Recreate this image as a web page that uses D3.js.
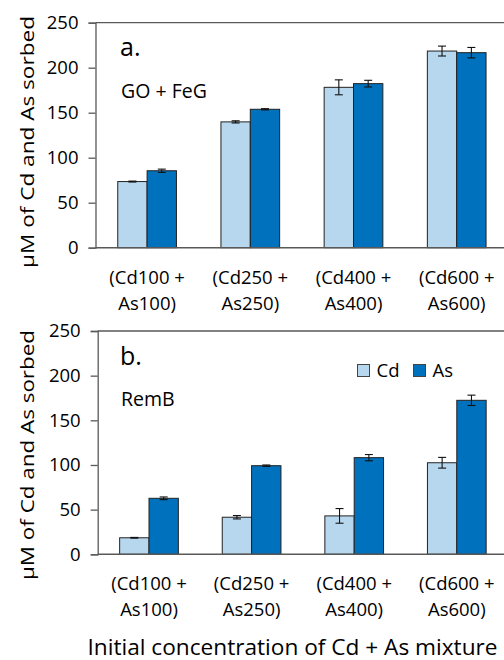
<!DOCTYPE html>
<html>
<head>
<meta charset="utf-8">
<script src="https://cdn.jsdelivr.net/npm/d3@7"></script>
<style>
  html, body { margin: 0; padding: 0; background: #fff; }
  svg text { font-family: "Open Sans", "Noto Sans", sans-serif; fill: #000; }
</style>
</head>
<body>
<div id="chart"></div>
<script>
// Mixture treatments on the x axis (two label lines each)
const categories = ["Cd100+As100", "Cd250+As250", "Cd400+As400", "Cd600+As600"];
const labelLine1 = ["(Cd100 +", "(Cd250 +", "(Cd400 +", "(Cd600 +"];
const labelLine2 = ["As100)", "As250)", "As400)", "As600)"];
const seriesNames = ["Cd", "As"];
const yTicks = [0, 50, 100, 150, 200, 250];

// Panel a: GO + FeG (µM sorbed, with standard deviations)
const goFeGCd = [73.5, 139.8, 178.2, 218.5];
const goFeGAs = [85.5, 153.8, 182.3, 216.7];
const goFeGCdErr = [0.5, 1.2, 8.3, 5.5];
const goFeGAsErr = [1.8, 0.7, 3.7, 5.8];

// Panel b: RemB
const remBCd = [18.5, 41.5, 43.0, 102.5];
const remBAs = [62.7, 99.2, 108.2, 172.4];
const remBCdErr = [0.4, 1.9, 8.2, 6.0];
const remBAsErr = [1.5, 0.8, 3.5, 5.8];

const colors = { Cd: "#b7d7ef", As: "#0071bc" };
const axisColor = "#595959";

const W = 504, H = 660;
const svg = d3.select("#chart").append("svg")
  .attr("width", W).attr("height", H)
  .attr("viewBox", `0 0 ${W} ${H}`);
svg.append("rect").attr("width", W).attr("height", H).attr("fill", "#fff");

const panels = [
  { letter: "a.", name: "GO + FeG", cd: goFeGCd, as: goFeGAs, cdErr: goFeGCdErr, asErr: goFeGAsErr,
    left: 95.5, right: 508.3, top: 22.7, bottom: 247.7, titleCy: 142, titleLen: 252, legend: false },
  { letter: "b.", name: "RemB", cd: remBCd, as: remBAs, cdErr: remBCdErr, asErr: remBAsErr,
    left: 97.7, right: 508.1, top: 331, bottom: 554.3, titleCy: 455, titleLen: 250, legend: true }
];

panels.forEach(p => {
  const g = svg.append("g");
  const pad = 1 - 58.7 / ((p.right - p.left) / 4);
  const x = d3.scaleBand().domain(categories).range([p.left, p.right])
    .paddingInner(pad).paddingOuter(pad / 2);
  const xs = d3.scaleBand().domain(seriesNames).range([0, x.bandwidth()]).padding(0);
  const y = d3.scaleLinear().domain([0, 250]).range([p.bottom, p.top]);

  // plot frame (top and right edges)
  g.append("path")
    .attr("d", `M${p.left},${p.top}H${p.right}V${p.bottom}`)
    .attr("fill", "none").attr("stroke", axisColor).attr("stroke-width", 1.3);

  // y axis
  const yAxis = d3.axisLeft(y).tickValues(yTicks).tickSize(7).tickPadding(10);
  const ya = g.append("g").attr("transform", `translate(${p.left},0)`).call(yAxis);
  ya.select(".domain").attr("stroke", axisColor).attr("stroke-width", 1.3);
  ya.selectAll(".tick line").attr("stroke", axisColor).attr("stroke-width", 1.3);
  ya.selectAll(".tick text").style("font-size", "18.5px").attr("fill", "#000");

  // bars
  const rows = categories.map((c, i) => ({
    c,
    vals: [
      { s: "Cd", v: p.cd[i], e: p.cdErr[i] },
      { s: "As", v: p.as[i], e: p.asErr[i] }
    ]
  }));
  const grp = g.selectAll(".grp").data(rows).join("g")
    .attr("transform", d => `translate(${x(d.c)},0)`);
  grp.selectAll("rect").data(d => d.vals).join("rect")
    .attr("x", d => xs(d.s))
    .attr("width", xs.bandwidth())
    .attr("y", d => y(d.v))
    .attr("height", d => y(0) - y(d.v))
    .attr("fill", d => colors[d.s])
    .attr("stroke", "#222").attr("stroke-width", 1);

  // error bars
  const eb = grp.selectAll(".err").data(d => d.vals).join("g").attr("class", "err")
    .attr("stroke", "#111").attr("stroke-width", 1.1);
  eb.append("line")
    .attr("x1", d => xs(d.s) + xs.bandwidth() / 2).attr("x2", d => xs(d.s) + xs.bandwidth() / 2)
    .attr("y1", d => y(d.v + d.e)).attr("y2", d => y(d.v - d.e));
  ["+", "-"].forEach(sign => {
    eb.append("line")
      .attr("x1", d => xs(d.s) + xs.bandwidth() / 2 - 4).attr("x2", d => xs(d.s) + xs.bandwidth() / 2 + 4)
      .attr("y1", d => y(sign === "+" ? d.v + d.e : d.v - d.e))
      .attr("y2", d => y(sign === "+" ? d.v + d.e : d.v - d.e));
  });

  // x axis baseline
  g.append("line").attr("x1", p.left).attr("x2", p.right)
    .attr("y1", y(0)).attr("y2", y(0))
    .attr("stroke", axisColor).attr("stroke-width", 1.6);

  // category labels (two lines)
  const lab = g.selectAll(".xlab").data(categories).join("text")
    .attr("text-anchor", "middle").style("font-size", "18.5px")
    .attr("transform", d => `translate(${x(d) + x.bandwidth() / 2},${p.bottom + 36})`);
  lab.append("tspan").attr("x", 0).attr("y", 0).text((d, i) => labelLine1[i]);
  lab.append("tspan").attr("x", 0).attr("y", 26).text((d, i) => labelLine2[i]);

  // panel letter and sorbent name
  g.append("text").attr("x", 120).attr("y", p.top + 33.5).style("font-size", "25px").text(p.letter);
  g.append("text").attr("x", 121).attr("y", p.top + 75).style("font-size", "19.5px").text(p.name);

  // y axis title
  g.append("text")
    .attr("transform", `translate(33.5,${p.titleCy}) rotate(-90)`)
    .attr("text-anchor", "middle")
    .attr("textLength", p.titleLen).attr("lengthAdjust", "spacingAndGlyphs")
    .style("font-size", "18.5px")
    .text("μM of Cd and As sorbed");

  // legend
  if (p.legend) {
    const lg = g.append("g").attr("transform", `translate(357.5,${p.top + 33.5})`);
    const items = lg.selectAll("g").data(seriesNames).join("g")
      .attr("transform", (d, i) => `translate(${i * 56},0)`);
    items.append("rect").attr("width", 12).attr("height", 12)
      .attr("fill", d => colors[d]).attr("stroke", "#444").attr("stroke-width", 1);
    items.append("text").attr("x", 19).attr("y", 12).style("font-size", "18.5px").text(d => d);
  }
});

// shared x axis title
svg.append("text").attr("x", 292.5).attr("y", 655)
  .attr("text-anchor", "middle").style("font-size", "21px")
  .attr("textLength", 410).attr("lengthAdjust", "spacingAndGlyphs")
  .text("Initial concentration of Cd + As mixture");
</script>
</body>
</html>
